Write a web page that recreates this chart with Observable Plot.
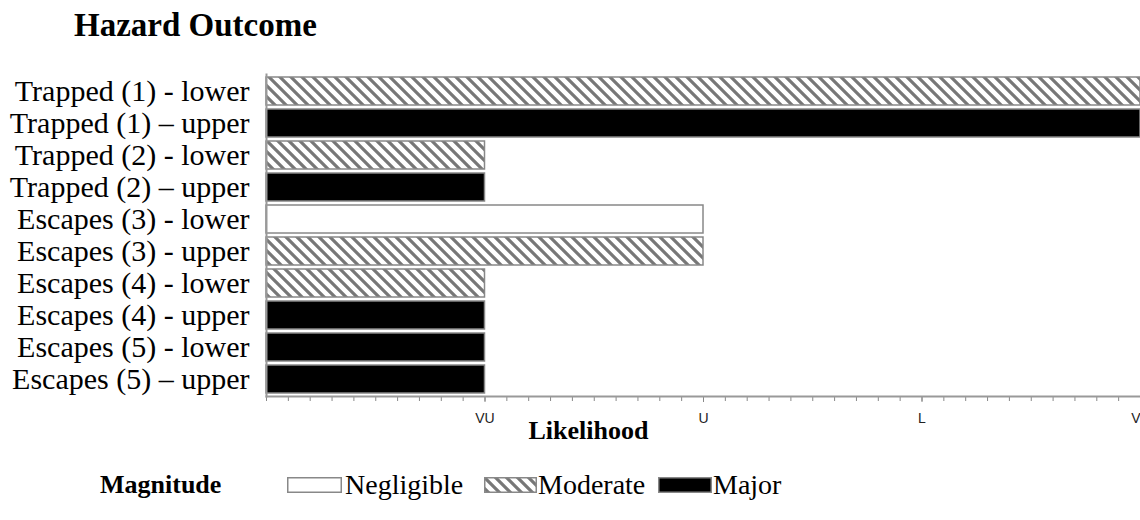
<!DOCTYPE html>
<html>
<head>
<meta charset="utf-8">
<script src="https://cdn.jsdelivr.net/npm/d3@7"></script>
<script src="https://cdn.jsdelivr.net/npm/@observablehq/plot@0.6"></script>
<style>
  html, body { margin: 0; padding: 0; background: white; width: 1140px; height: 520px; overflow: hidden; }
  #title { height: 50px; line-height: 50px; padding-left: 74px; font-family: "Liberation Serif", serif; font-weight: bold; font-size: 33px; color: #000; }
  #chart svg { display: block; }
  #legend { position: relative; height: 70px; font-family: "Liberation Serif", serif; color: #000; }
  #legend .t { position: absolute; top: 35px; transform: translateY(-50%); font-size: 28px; line-height: 1; white-space: nowrap; }
  #legend .sw { position: absolute; top: 27px; height: 16px; }
</style>
</head>
<body>
<svg width="0" height="0" style="position:absolute">
  <defs>
    <pattern id="hatch" patternUnits="userSpaceOnUse" width="11" height="11">
      <rect width="11" height="11" fill="white"></rect>
      <path d="M-3,-3 L14,14 M-3,8 L3,14 M8,-3 L14,3" stroke="#777" stroke-width="3.2"></path>
    </pattern>
  </defs>
</svg>
<div id="title">Hazard Outcome</div>
<div id="chart"></div>
<div id="legend"></div>
<script>
const categories = [
  "Trapped (1) - lower",
  "Trapped (1) \u2013 upper",
  "Trapped (2) - lower",
  "Trapped (2) \u2013 upper",
  "Escapes (3) - lower",
  "Escapes (3) - upper",
  "Escapes (4) - lower",
  "Escapes (4) - upper",
  "Escapes (5) - lower",
  "Escapes (5) \u2013 upper"
];
const likelihoodValues = [4, 4, 1, 1, 2, 2, 1, 1, 1, 1];
const magnitudes = ["Moderate", "Major", "Moderate", "Major", "Negligible", "Moderate", "Moderate", "Major", "Major", "Major"];
const tickLabels = ["VU", "U", "L", "V"];
const magnitudeOrder = ["Negligible", "Moderate", "Major"];
const magnitudeFill = {Negligible: "white", Moderate: "url(#hatch)", Major: "black"};

const data = categories.map((c, i) => ({category: c, value: likelihoodValues[i], magnitude: magnitudes[i]}));
const minorTicks = d3.range(0, 41).map(i => i / 10);

const chart = Plot.plot({
  width: 1140,
  height: 400,
  marginTop: 24,
  marginBottom: 54,
  marginLeft: 266,
  marginRight: 0,
  style: {fontFamily: "Liberation Serif", background: "white", overflow: "visible"},
  x: {domain: [0, 4]},
  y: {domain: categories, paddingInner: 0.12, paddingOuter: 0.06},
  marks: [
    Plot.axisY({tickSize: 0, tickPadding: 17, fontSize: 30, fill: "black", label: null, fontFamily: "Liberation Serif"}),
    Plot.axisX({ticks: minorTicks, tickSize: 5, tickFormat: () => "", stroke: "#888", label: null}),
    Plot.axisX({ticks: [1, 2, 3], tickSize: 6, tickFormat: d => tickLabels[d - 1], fontSize: 14, fontFamily: "Liberation Sans", tickPadding: 11, label: null, fill: "#222", stroke: "#888"}),
    Plot.axisX({ticks: [4], tickSize: 6, tickFormat: d => tickLabels[d - 1], fontSize: 14, fontFamily: "Liberation Sans", tickPadding: 11, label: null, fill: "#222", stroke: "#888", textAnchor: "end"}),
    ...magnitudeOrder.map(m => Plot.barX(data.filter(d => d.magnitude === m), {
      x: "value", y: "category", fill: magnitudeFill[m], stroke: "#888", strokeWidth: 1.5
    })),
    Plot.frame({anchor: "bottom", stroke: "#999", strokeWidth: 2}),
    Plot.frame({anchor: "left", stroke: "#999", strokeWidth: 2}),
    Plot.text(["Likelihood"], {text: d => d, frameAnchor: "bottom", dx: -115, dy: 42, fontSize: 26, fontWeight: "bold", fill: "black", fontFamily: "Liberation Serif"})
  ]
});
document.getElementById("chart").appendChild(chart);

// Legend
const legend = document.getElementById("legend");
function addText(txt, left, bold) {
  const s = document.createElement("span");
  s.className = "t";
  s.style.left = left + "px";
  if (bold) { s.style.fontWeight = "bold"; s.style.fontSize = "26px"; }
  s.textContent = txt;
  legend.appendChild(s);
}
function addSwatch(m, left, w) {
  const ns = "http://www.w3.org/2000/svg";
  const svg = document.createElementNS(ns, "svg");
  svg.setAttribute("class", "sw");
  svg.setAttribute("width", w);
  svg.setAttribute("height", 16);
  svg.style.left = left + "px";
  const r = document.createElementNS(ns, "rect");
  r.setAttribute("x", 0.75); r.setAttribute("y", 0.75);
  r.setAttribute("width", w - 1.5); r.setAttribute("height", 14.5);
  r.setAttribute("fill", magnitudeFill[m]);
  r.setAttribute("stroke", "#888");
  r.setAttribute("stroke-width", 1.5);
  svg.appendChild(r);
  legend.appendChild(svg);
}
addText("Magnitude", 100, true);
const legendPos = [[287, 55, 345], [484, 53, 538], [658, 54, 713]];
magnitudeOrder.forEach((m, i) => {
  addSwatch(m, legendPos[i][0], legendPos[i][1]);
  addText(m, legendPos[i][2], false);
});
</script>
</body>
</html>
